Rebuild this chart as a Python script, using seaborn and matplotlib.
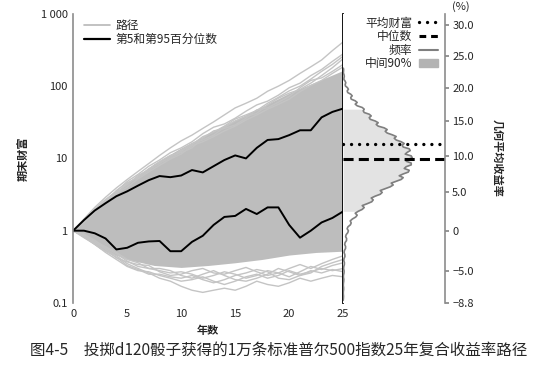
import numpy as np
import pandas as pd
import seaborn as sns
import matplotlib.pyplot as plt
from matplotlib.lines import Line2D
from matplotlib.patches import Patch

sns.set_theme(style='white')
plt.rcParams['font.family'] = ['Noto Sans CJK SC', 'DejaVu Sans']
plt.rcParams['axes.unicode_minus'] = False

# 年份 & 第5/第95百分位数（期末财富）
years = list(range(26))
p95 = [1.0, 1.4, 1.9, 2.4, 3.0, 3.5, 4.2, 5.0, 5.7, 5.5, 5.8, 6.9, 6.4, 7.8, 9.5,
       11.0, 10.0, 14.0, 18.0, 18.5, 21.0, 24.5, 24.5, 37.0, 44.0, 49.0]
p5 = [1.0, 1.0, 0.92, 0.78, 0.55, 0.58, 0.68, 0.71, 0.72, 0.52, 0.52, 0.70, 0.85,
      1.2, 1.55, 1.6, 2.0, 1.7, 2.1, 2.1, 1.2, 0.8, 1.0, 1.3, 1.5, 1.85]

# 路径密集区域的上下边界
env_years = [0, 1, 2.5, 5, 7.5, 10, 12.5, 15, 17.5, 20, 22.5, 25]
env_hi = [1, 1.5, 2.3, 4.5, 8.5, 14, 22, 34, 52, 80, 115, 165]
env_lo = [1, 0.8, 0.56, 0.4, 0.33, 0.31, 0.33, 0.36, 0.4, 0.46, 0.5, 0.52]

# 边缘的个别路径
paths_hi = [
    [1, 1.45, 2.1, 2.9, 3.9, 5.1, 6.6, 8.5, 11, 14, 17.5, 21, 26, 32, 40, 50, 58, 68, 85, 100, 120, 150, 185, 230, 310, 410],
    [1, 1.4, 2.0, 2.7, 3.5, 4.8, 6.0, 7.8, 9.5, 12, 14, 17, 22, 27, 30, 36, 45, 55, 62, 75, 95, 110, 140, 170, 220, 280],
    [1, 1.3, 1.8, 2.6, 3.4, 4.3, 5.8, 7.0, 8.5, 10.5, 13, 16, 18, 21, 27, 33, 38, 42, 55, 68, 80, 90, 110, 140, 180, 240],
    [1, 1.35, 1.9, 2.4, 3.2, 4.5, 5.5, 6.8, 9.0, 11, 12, 14, 19, 24, 26, 29, 36, 47, 50, 60, 72, 95, 120, 130, 160, 200],
    [1, 1.4, 1.85, 2.5, 3.6, 4.6, 5.4, 7.2, 8.8, 10, 12.5, 15.5, 20, 23, 28, 35, 40, 46, 58, 70, 86, 100, 125, 160, 200, 260],
    [1, 1.3, 1.9, 2.6, 3.3, 4.0, 5.2, 6.5, 8.0, 9.8, 11.5, 15, 17, 20, 24, 28, 34, 40, 48, 56, 66, 84, 102, 120, 150, 185],
]
paths_lo = [
    [1, 0.85, 0.7, 0.55, 0.45, 0.35, 0.3, 0.26, 0.22, 0.2, 0.17, 0.15, 0.14, 0.15, 0.16, 0.15, 0.17, 0.2, 0.18, 0.17, 0.19, 0.22, 0.2, 0.22, 0.24, 0.23],
    [1, 0.8, 0.65, 0.5, 0.4, 0.32, 0.28, 0.27, 0.24, 0.22, 0.2, 0.21, 0.23, 0.2, 0.18, 0.2, 0.23, 0.25, 0.22, 0.24, 0.28, 0.25, 0.27, 0.3, 0.28, 0.3],
    [1, 0.9, 0.72, 0.6, 0.5, 0.4, 0.36, 0.3, 0.28, 0.26, 0.27, 0.25, 0.22, 0.24, 0.27, 0.25, 0.22, 0.24, 0.28, 0.26, 0.23, 0.27, 0.32, 0.29, 0.33, 0.36],
    [1, 0.82, 0.68, 0.58, 0.48, 0.38, 0.32, 0.3, 0.3, 0.28, 0.24, 0.22, 0.25, 0.28, 0.24, 0.21, 0.2, 0.22, 0.25, 0.3, 0.27, 0.24, 0.26, 0.32, 0.36, 0.4],
    [1, 0.88, 0.74, 0.56, 0.42, 0.37, 0.34, 0.33, 0.27, 0.24, 0.25, 0.28, 0.3, 0.26, 0.25, 0.28, 0.31, 0.27, 0.24, 0.26, 0.3, 0.34, 0.3, 0.35, 0.4, 0.45],
    [1, 0.84, 0.66, 0.52, 0.43, 0.33, 0.29, 0.25, 0.25, 0.23, 0.22, 0.24, 0.21, 0.19, 0.21, 0.24, 0.26, 0.29, 0.27, 0.22, 0.21, 0.24, 0.28, 0.26, 0.29, 0.27],
]

# 几何平均收益率分布（%，间隔0.25）及频率
ret_bins = np.arange(-8.5, 23.01, 0.25)
freq = [0, 0.2, 0.3, 0.1, 0.1, 0.4, 0.4, 0.1,
        0.2, 0.5, 0.6, 0.2, 0.3, 0.8, 0.9, 0.4,
        0.5, 1.1, 1.2, 0.6, 0.8, 1.7, 1.6, 0.9,
        1.2, 2.3, 2.4, 1.5, 1.9, 3.3, 3.4, 2.4,
        3.0, 4.6, 5.2, 3.9, 4.8, 7.2, 8.0, 7.0,
        9.2, 12.5, 14, 12, 15, 19, 21, 19,
        24, 28.5, 30, 28, 32, 37, 39, 37,
        42, 47, 50, 48, 53, 58, 60, 56,
        60, 65, 66, 61, 63, 68, 68, 63,
        65, 69, 68, 62, 64, 67, 66, 60,
        59, 61, 58, 53, 51, 53, 49, 44,
        42, 44, 41, 35, 33, 35, 32, 27,
        26, 28, 26, 21, 20, 21, 19, 14,
        12, 14, 12, 8, 7.5, 9, 7.5, 4.5,
        4, 5.2, 4.2, 2.2, 2, 2.6, 1.9, 0.7,
        0.8, 1.1, 0.8, 0.2, 0.3, 0.4, 0.2]
mean_ret = 11.7
median_ret = 9.6
ret_ticks = [30, 25, 20, 15, 10, 5, 0, -5, -8.8]
ret_labels = ['30.0', '25.0', '20.0', '15.0', '10.0', '5.0', '0', '−5.0', '−8.8']

fig = plt.figure(figsize=(5.5, 3.65), dpi=100)
ax = fig.add_axes([0.133, 0.170, 0.491, 0.792])
ax_r = fig.add_axes([0.624, 0.170, 0.1855, 0.792])

path_gray = '#c4c4c4'
ax.fill_between(env_years, env_lo, env_hi, color='#bdbdbd', lw=0)
rows = []
for i, p in enumerate(paths_hi + paths_lo):
    for y, v in zip(years, p):
        rows.append({'年': y, '财富': v, '路径': i})
df_paths = pd.DataFrame(rows)
sns.lineplot(data=df_paths, x='年', y='财富', units='路径', estimator=None,
             color=path_gray, lw=1.0, ax=ax, legend=False)
df_pct = pd.DataFrame({'年': years + years, '财富': p5 + p95,
                       '分位': ['p5'] * 26 + ['p95'] * 26})
sns.lineplot(data=df_pct, x='年', y='财富', units='分位', estimator=None,
             color='black', lw=1.4, ax=ax, legend=False)

ax.set_yscale('log')
ax.set_xlim(0, 25)
ax.set_ylim(0.1, 1000)
ax.set_xticks([0, 5, 10, 15, 20, 25])
ax.set_yticks([0.1, 1, 10, 100, 1000])
ax.set_yticklabels(['0.1', '1', '10', '100', '1 000'])
ax.minorticks_off()
ax.tick_params(axis='y', direction='in', length=3, color='#888888', labelsize=8, pad=4)
ax.tick_params(axis='x', length=0, labelsize=8, pad=4)
for s in ['top', 'bottom']:
    ax.spines[s].set_visible(False)
ax.spines['left'].set_color('#8c8c8c')
ax.spines['left'].set_linewidth(1.2)
ax.spines['right'].set_color('black')
ax.spines['right'].set_linewidth(1.3)
ax.set_xlabel('年数', fontsize=8, fontweight='bold', labelpad=4)
ax.set_ylabel('期末财富', fontsize=8, fontweight='bold', labelpad=8)

ax.legend(handles=[Line2D([], [], color='#b8b8b8', lw=1.2),
                   Line2D([], [], color='black', lw=1.6)],
          labels=['路径', '第5和第95百分位数'], loc='upper left',
          bbox_to_anchor=(0.0, 1.02), frameon=False, fontsize=8.5,
          handlelength=2.2, handletextpad=0.5, labelspacing=0.1)

# 右侧：几何平均收益率分布
dot_ls = (0, (0.01, 2.4))
dash_ls = (0, (3.3, 1.7))
wealth_y = (1 + ret_bins / 100) ** 25
r5 = (p5[-1]) ** (1 / 25) * 100 - 100
r95 = (p95[-1]) ** (1 / 25) * 100 - 100
mask = (ret_bins >= r5) & (ret_bins <= r95)
ax_r.fill_betweenx(wealth_y, 0, freq, where=mask, color='#e3e3e3', lw=0)
sns.lineplot(x=freq, y=wealth_y, sort=False, estimator=None, orient='y',
             color='#7f7f7f', lw=1.2, ax=ax_r)
ax_r.axhline((1 + mean_ret / 100) ** 25, color='black', lw=2.4, ls=dot_ls,
             dash_capstyle='round')
ax_r.axhline((1 + median_ret / 100) ** 25, color='black', lw=2.2, ls=dash_ls)

ax_r.set_yscale('log')
ax_r.set_ylim(0.1, 1000)
ax_r.set_xlim(0, 102)
ax_r.set_xticks([])
ax_r.set_yticks([(1 + r / 100) ** 25 for r in ret_ticks])
ax_r.set_yticklabels(ret_labels)
ax_r.minorticks_off()
ax_r.yaxis.tick_right()
ax_r.yaxis.set_label_position('right')
ax_r.tick_params(axis='y', direction='out', length=3, color='#888888', labelsize=8, pad=2)
for s in ['top', 'bottom', 'left']:
    ax_r.spines[s].set_visible(False)
ax_r.spines['right'].set_color('#8c8c8c')
ax_r.spines['right'].set_linewidth(1.2)
ax_r.set_ylabel('几何平均收益率', fontsize=8, fontweight='bold', rotation=270,
                labelpad=22)
fig.text(461 / 550, 1 - 7 / 365, '(%)', fontsize=8, ha='center', va='center')

ax_r.legend(handles=[Line2D([], [], color='black', lw=2.4, ls=dot_ls,
                            dash_capstyle='round'),
                     Line2D([], [], color='black', lw=2.2, ls=(0, (2.2, 1.6))),
                     Line2D([], [], color='#7f7f7f', lw=1.5),
                     Patch(color='#b3b3b3')],
            labels=['平均财富', '中位数', '频率', '中间90%'], loc='upper right',
            bbox_to_anchor=(1.0, 1.015), frameon=False, fontsize=8.5,
            markerfirst=False, handlelength=1.6, handletextpad=0.6,
            labelspacing=0.05, borderaxespad=0.2)

fig.text(0.055, 0.041, '图4-5　投掷d120骰子获得的1万条标准普尔500指数25年复合收益率路径',
         fontsize=11.2, ha='left', va='center')

plt.savefig('out.png', dpi=100)
